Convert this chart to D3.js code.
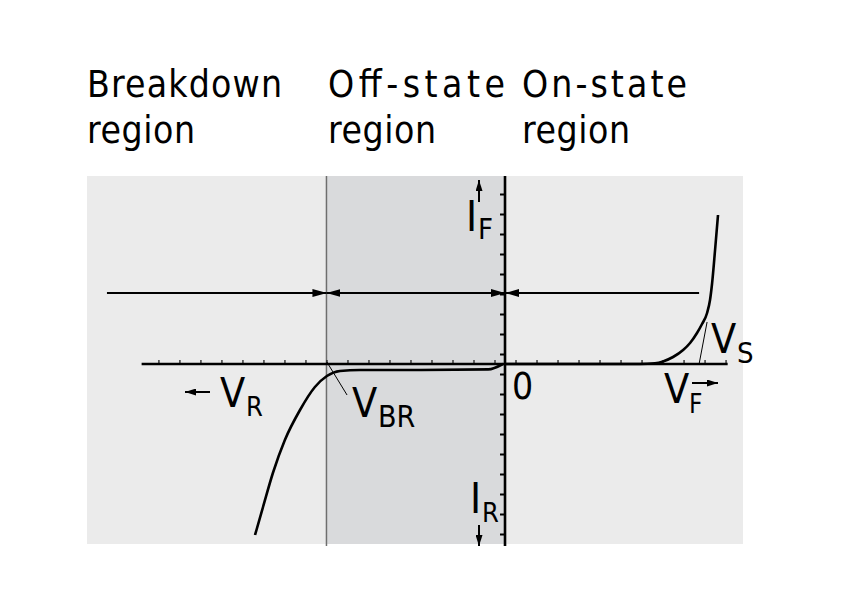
<!DOCTYPE html>
<html>
<head>
<meta charset="utf-8">
<script src="https://cdn.jsdelivr.net/npm/d3@7"></script>
<style>
  body { margin: 0; background: #fff; }
  svg text { font-family: "DejaVu Sans Condensed", "DejaVu Sans", sans-serif; font-stretch: condensed; fill: #000; }
</style>
</head>
<body>
<script>
// region headings (two lines each)
const regionTitles = [["Breakdown", "region"], ["Off-state", "region"], ["On-state", "region"]];

// region edges along the voltage axis (breakdown | off-state | on-state)
const regionEdges = [-19.9, -8.5, 0, 11.33];
const currentRange = [-9, 9.4];

// tick marks (unlabelled)
const xTicks = [-16.5, -15.5, -14.5, -13.5, -12.5, -11.5, -10.5, -9.5, -8.5, -7.5, -6.5, -5.5, -4.5, -3.5, -2.5, -1.5, -0.5,
                0.5, 1.5, 2.5, 3.5, 4.5, 5.5, 6.5, 7.5, 8.5, 9.5, 10.5];
const yTicks = [-8.5, -7.5, -6.5, -5.5, -4.5, -3.5, -2.5, -1.5, -0.5, 0.5, 1.5, 2.5, 3.5, 4.5, 5.5, 6.5, 7.5, 8.5];

// reverse branch (breakdown + leakage)
const reverseV = [-11.9, -11.52, -11.05, -10.48, -9.76, -9.05, -8.48, -7.86, -6.9, -4.0, -0.8, -0.1];
const reverseI = [-8.55, -7.15, -5.45, -3.8, -2.3, -1.15, -0.6, -0.35, -0.3, -0.3, -0.27, 0];

// forward branch
const forwardV = [0, 3, 6.43, 7.14, 7.52, 8.0, 8.48, 8.81, 9.14, 9.38, 9.62, 9.76, 9.86, 10.0, 10.14];
const forwardI = [0, 0, 0, 0.04, 0.13, 0.35, 0.7, 1.05, 1.55, 2.0, 2.55, 3.2, 4.05, 5.7, 7.45];

// helper lines: V_S tangent and V_BR pointer
const vsLineV = [9.24, 9.62];
const vsLineI = [0, 2.1];
const vbrLineV = [-8.48, -7.52];
const vbrLineI = [0.1, -1.55];

// region span arrows
const spanLevel = 3.55;
const spanStarts = [-18.95, -8.5, 0];
const spanEnds = [-8.5, 0, 9.24];

const width = 843;
const height = 597;

const svg = d3.select("body")
  .append("svg")
  .attr("width", width)
  .attr("height", height);

const x = d3.scaleLinear()
  .domain([regionEdges[0], regionEdges[3]])
  .range([87, 743]);

const y = d3.scaleLinear()
  .domain(currentRange)
  .range([544, 176]);

// arrow heads
const defs = svg.append("defs");
function addMarker(id, len, half) {
  defs.append("marker")
    .attr("id", id)
    .attr("markerUnits", "userSpaceOnUse")
    .attr("markerWidth", len)
    .attr("markerHeight", half * 2)
    .attr("refX", len)
    .attr("refY", half)
    .attr("orient", "auto-start-reverse")
    .append("path")
    .attr("d", `M0,0 L${len},${half} L0,${half * 2} Z`)
    .attr("fill", "#000");
}
addMarker("arrow", 14, 4);
addMarker("arrowSmall", 11, 3.5);

// backgrounds
svg.append("rect")
  .attr("x", x(regionEdges[0]))
  .attr("y", y(currentRange[1]))
  .attr("width", x(regionEdges[3]) - x(regionEdges[0]))
  .attr("height", y(currentRange[0]) - y(currentRange[1]))
  .attr("fill", "#ebebeb");

svg.append("rect")
  .attr("x", x(regionEdges[1]))
  .attr("y", y(currentRange[1]))
  .attr("width", x(regionEdges[2]) - x(regionEdges[1]))
  .attr("height", y(currentRange[0]) - y(currentRange[1]))
  .attr("fill", "#d9dadc");

// breakdown voltage boundary
svg.append("line")
  .attr("x1", x(regionEdges[1])).attr("x2", x(regionEdges[1]))
  .attr("y1", y(currentRange[1])).attr("y2", y(-9.1))
  .attr("stroke", "#6e6e6e")
  .attr("stroke-width", 1.5);

// titles
regionTitles.forEach(function(lines, i) {
  const left = [87, 328, 522][i];
  const lengths = [[195, 108], [177, 108], [165, 108]][i];
  lines.forEach(function(t, j) {
    svg.append("text")
      .attr("x", left)
      .attr("y", 97 + j * 46)
      .attr("font-size", 37)
      .attr("textLength", lengths[j])
      .attr("lengthAdjust", "spacing")
      .text(t);
  });
});

// span arrows
spanStarts.forEach(function(s, i) {
  svg.append("line")
    .attr("x1", x(s)).attr("x2", x(spanEnds[i]))
    .attr("y1", y(spanLevel)).attr("y2", y(spanLevel))
    .attr("stroke", "#000")
    .attr("stroke-width", 2)
    .attr("marker-start", i > 0 ? "url(#arrow)" : null)
    .attr("marker-end", i < 2 ? "url(#arrow)" : null);
});

// tick marks via d3 axes
const xAxis = svg.append("g")
  .attr("transform", "translate(0," + y(0) + ")")
  .call(d3.axisTop(x).tickValues(xTicks).tickSize(4).tickFormat(""));
xAxis.select(".domain").remove();
xAxis.selectAll(".tick line").attr("stroke", "#222").attr("stroke-width", 1.3);

const yAxis = svg.append("g")
  .attr("transform", "translate(" + x(0) + ",0)")
  .call(d3.axisLeft(y).tickValues(yTicks).tickSize(5).tickFormat(""));
yAxis.select(".domain").remove();
yAxis.selectAll(".tick line").attr("stroke", "#000").attr("stroke-width", 2);

// axis lines
svg.append("line")
  .attr("x1", x(-17.3)).attr("x2", x(10.6))
  .attr("y1", y(0)).attr("y2", y(0))
  .attr("stroke", "#000")
  .attr("stroke-width", 2.6);

svg.append("line")
  .attr("x1", x(0)).attr("x2", x(0))
  .attr("y1", y(currentRange[1])).attr("y2", y(-9.1))
  .attr("stroke", "#000")
  .attr("stroke-width", 2.6);

// helper lines
function thinLine(vs, is) {
  svg.append("line")
    .attr("x1", x(vs[0])).attr("x2", x(vs[1]))
    .attr("y1", y(is[0])).attr("y2", y(is[1]))
    .attr("stroke", "#000")
    .attr("stroke-width", 1);
}
thinLine(vsLineV, vsLineI);
thinLine(vbrLineV, vbrLineI);

// I-V curves
const line = d3.line()
  .x(function(d) { return x(d[0]); })
  .y(function(d) { return y(d[1]); })
  .curve(d3.curveMonotoneX);

[[reverseV, reverseI], [forwardV, forwardI]].forEach(function(c) {
  svg.append("path")
    .datum(d3.zip(c[0], c[1]))
    .attr("fill", "none")
    .attr("stroke", "#000")
    .attr("stroke-width", 2.6)
    .attr("d", line);
});

// axis labels
function label(px, py, size, t) {
  svg.append("text").attr("x", px).attr("y", py).attr("font-size", size).text(t);
}
label(466, 231, 42, "I");
label(478, 239, 29, "F");
label(470, 513, 42, "I");
label(482, 522, 27, "R");
label(512, 399, 37, "0");
label(220, 407, 41, "V");
label(246, 416, 27, "R");
label(352, 417, 41, "V");
label(378, 427, 30, "BR");
label(711, 353, 41, "V");
label(737, 363, 29, "S");
label(664, 403, 41, "V");
label(689, 413, 26, "F");

// direction arrows next to labels
function smallArrow(x1, y1, x2, y2) {
  svg.append("line")
    .attr("x1", x1).attr("y1", y1).attr("x2", x2).attr("y2", y2)
    .attr("stroke", "#000")
    .attr("stroke-width", 2)
    .attr("marker-end", "url(#arrowSmall)");
}
smallArrow(479, 202, 479, 180);
smallArrow(479, 525, 479, 546);
smallArrow(210, 392, 185, 392);
smallArrow(692, 383, 718, 383);
</script>
</body>
</html>
